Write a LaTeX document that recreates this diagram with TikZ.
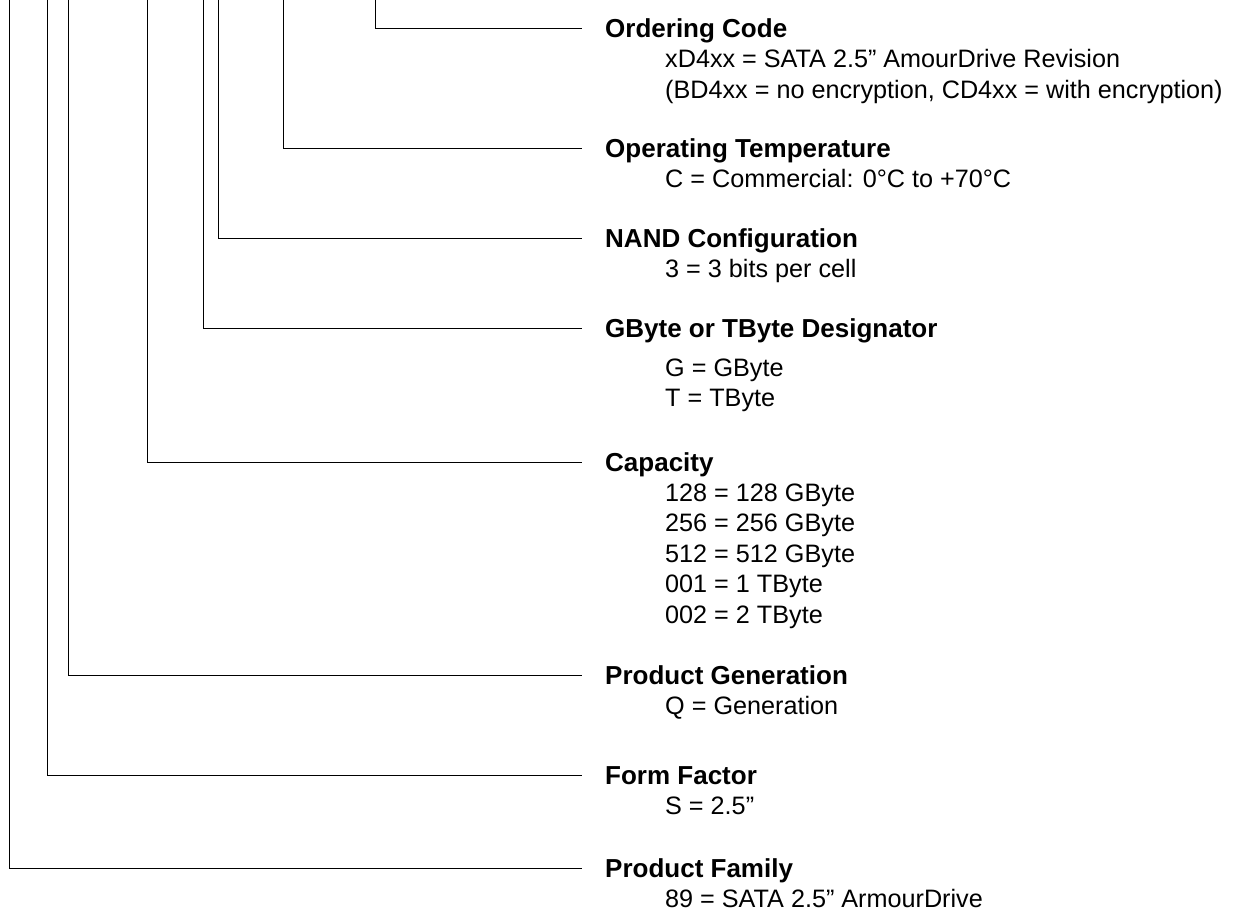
\documentclass[tikz,border=0pt]{standalone}
\usepackage{fontspec}
\setmainfont{Liberation Sans}
\usetikzlibrary{positioning}
\tikzstyle{every node}=[inner sep=0pt]
\tikzstyle{title}=[anchor=west,font=\fontsize{26}{31}\selectfont\bfseries,text height=18.6pt,text depth=0pt]
\tikzstyle{body}=[align=left,font=\fontsize{25.2}{30.5}\selectfont]
\tikzstyle{lead}=[draw=black,line width=1pt,shorten >=23pt]

\begin{document}
\begin{tikzpicture}[x=1pt,y=-1pt]
    \useasboundingbox (0,0) rectangle (1238,919);
    % field titles
    \node[title] (ordering) at (605,28) {Ordering Code};
    \node[title] (temp) at (605,148) {Operating Temperature};
    \node[title] (nand) at (605,238) {NAND Configuration};
    \node[title] (unit) at (605,328) {GByte or TByte Designator};
    \node[title] (capacity) at (605,462) {Capacity};
    \node[title] (generation) at (605,675) {Product Generation};
    \node[title] (form) at (605,775) {Form Factor};
    \node[title] (family) at (605,868) {Product Family};
    % field values
    \node[body,below right=12pt and 60pt of ordering.south west] (ordering-v)
        {xD4xx = SATA 2.5” AmourDrive Revision\\(BD4xx = no encryption, CD4xx = with encryption)};
    \node[body,below right=12pt and 60pt of temp.south west] (temp-v)
        {C = Commercial: 0°C to +70°C};
    \node[body,below right=12pt and 60pt of nand.south west] (nand-v)
        {3 = 3 bits per cell};
    \node[body,below right=21pt and 60pt of unit.south west] (unit-v)
        {G = GByte\\T = TByte};
    \node[body,below right=12pt and 60pt of capacity.south west] (capacity-v)
        {128 = 128 GByte\\256 = 256 GByte\\512 = 512 GByte\\001 = 1 TByte\\002 = 2 TByte};
    \node[body,below right=12pt and 60pt of generation.south west] (generation-v)
        {Q = Generation};
    \node[body,below right=12pt and 60pt of form.south west] (form-v)
        {S = 2.5”};
    \node[body,below right=12pt and 60pt of family.south west] (family-v)
        {89 = SATA 2.5” ArmourDrive};
    % leader lines from the top edge
    \coordinate (ordering-top) at (375,0);
    \coordinate (temp-top) at (283,0);
    \coordinate (nand-top) at (218,0);
    \coordinate (unit-top) at (203,0);
    \coordinate (capacity-top) at (147,0);
    \coordinate (generation-top) at (68,0);
    \coordinate (form-top) at (47,0);
    \coordinate (family-top) at (9,0);
    \draw[lead] (ordering-top) |- (ordering.west);
    \draw[lead] (temp-top) |- (temp.west);
    \draw[lead] (nand-top) |- (nand.west);
    \draw[lead] (unit-top) |- (unit.west);
    \draw[lead] (capacity-top) |- (capacity.west);
    \draw[lead] (generation-top) |- (generation.west);
    \draw[lead] (form-top) |- (form.west);
    \draw[lead] (family-top) |- (family.west);
\end{tikzpicture}
\end{document}
